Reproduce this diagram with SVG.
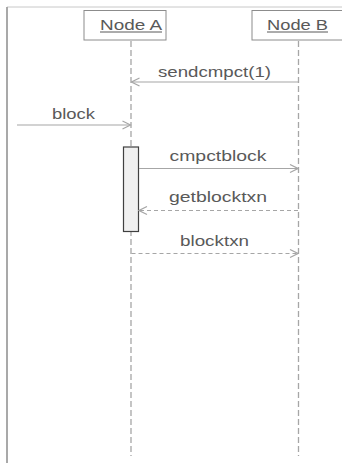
<svg xmlns="http://www.w3.org/2000/svg" width="342" height="463" viewBox="0 0 342 463">
<defs>
<style>
text{font-family:"Liberation Sans","DejaVu Sans",sans-serif;font-size:14px;fill:#595959;text-anchor:middle}
.box{fill:#fff;stroke:#8c8c8c;stroke-width:1}
.life{stroke:#a6a6a6;stroke-width:1.3;stroke-dasharray:6 3;fill:none}
.msg{stroke:#a6a6a6;stroke-width:1.2;fill:none}
.dash{stroke-dasharray:4 3}
.ul{stroke:#595959;stroke-width:1}
</style>
<marker id="ah" viewBox="0 0 10 10" refX="9" refY="5" markerWidth="10" markerHeight="10" markerUnits="userSpaceOnUse" orient="auto">
<path d="M1,1 L9,5 L1,9" fill="none" stroke="#a6a6a6" stroke-width="1.2"/>
</marker>
</defs>
<rect width="342" height="463" fill="#fff"/>
<g id="frame">
<line x1="7" y1="7" x2="342" y2="7" stroke="#c8c8c8" stroke-width="1"/>
<line x1="7" y1="7" x2="7" y2="463" stroke="#a0a0a0" stroke-width="1.8"/>
</g>
<g id="nodeA">
<rect class="box" x="84" y="10.5" width="82" height="29.5"/>
<text x="131" y="29.5" textLength="62" lengthAdjust="spacingAndGlyphs">Node A</text>
<line class="ul" x1="100" y1="32" x2="162" y2="32"/>
</g>
<g id="nodeB">
<rect class="box" x="252" y="10.5" width="100" height="29.5"/>
<text x="297.5" y="29.5" textLength="61" lengthAdjust="spacingAndGlyphs">Node B</text>
<line class="ul" x1="267" y1="32" x2="328" y2="32"/>
</g>
<g id="lifelines">
<line class="life" x1="131" y1="41" x2="131" y2="456"/>
<line class="life" x1="298.5" y1="41" x2="298.5" y2="456"/>
</g>
<g id="activation">
<rect x="123.5" y="147" width="15" height="84.5" fill="#f0f0f0" stroke="#404040" stroke-width="1.2"/>
</g>
<g id="connectors">
<line class="msg" x1="298.5" y1="82" x2="131.5" y2="82" marker-end="url(#ah)"/>
<line class="msg" x1="17" y1="125" x2="130.5" y2="125" marker-end="url(#ah)"/>
<line class="msg" x1="139" y1="168.5" x2="298" y2="168.5" marker-end="url(#ah)"/>
<line class="msg dash" x1="298" y1="210.5" x2="139" y2="210.5" marker-end="url(#ah)"/>
<line class="msg dash" x1="131.5" y1="253.5" x2="298" y2="253.5" marker-end="url(#ah)"/>
</g>
<g id="labels">
<text x="214.5" y="77" textLength="113" lengthAdjust="spacingAndGlyphs">sendcmpct(1)</text>
<text x="73.5" y="118.5" textLength="43" lengthAdjust="spacingAndGlyphs">block</text>
<text x="218" y="160.5" textLength="97" lengthAdjust="spacingAndGlyphs">cmpctblock</text>
<text x="218" y="202" textLength="98" lengthAdjust="spacingAndGlyphs">getblocktxn</text>
<text x="214.5" y="245.5" textLength="69" lengthAdjust="spacingAndGlyphs">blocktxn</text>
</g>
</svg>
